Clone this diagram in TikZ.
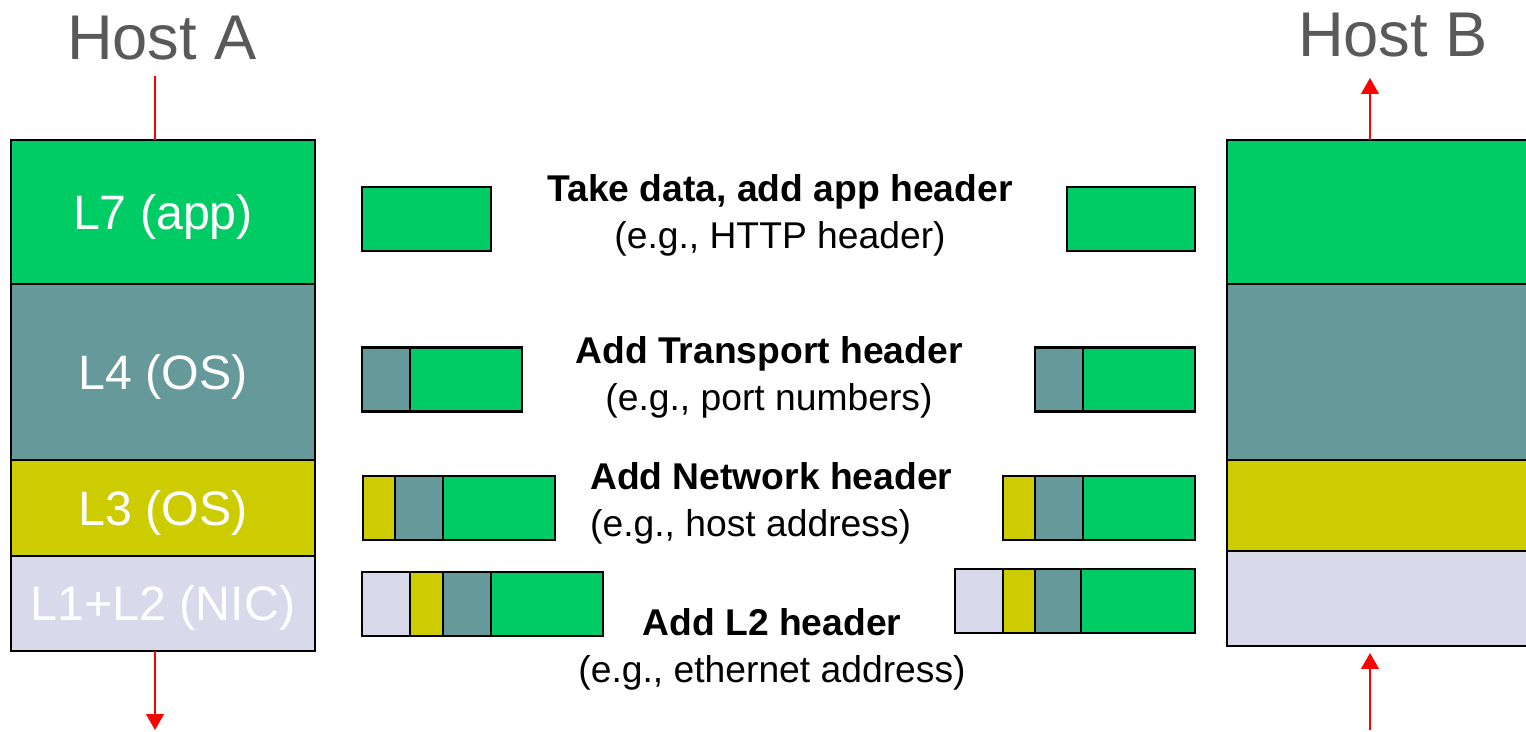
\documentclass[tikz,border=0pt]{standalone}
\usepackage{fontspec}
\setmainfont{Liberation Sans}
\usetikzlibrary{positioning,arrows.meta}
\definecolor{l7col}{HTML}{00CC66}
\definecolor{l4col}{HTML}{669999}
\definecolor{l3col}{HTML}{CCCC00}
\definecolor{l2col}{HTML}{D9D9EC}
\definecolor{hostgray}{HTML}{595959}

\begin{document}
\begin{tikzpicture}[x=0.02cm,y=-0.02cm,
  layer/.style={draw,line width=1.6pt,outer sep=0pt,minimum width=6.08cm,inner sep=0pt,text depth=0pt,text=white,font=\fontsize{27.5}{30}\selectfont},
  seg/.style={draw,line width=1.4pt,outer sep=0pt,minimum height=1.28cm,inner sep=0pt},
  note/.style={align=center,font=\fontsize{21.2}{26.6}\selectfont},
  hostlbl/.style={text=hostgray,font=\fontsize{36}{40}\selectfont,anchor=base},
  flow/.style={red,line width=1.1pt},
  tip/.style={-{Triangle[width=10pt,length=9pt]}}]
    \useasboundingbox (0,0) rectangle (1526,731);

    % sending side
    \node[hostlbl] (hostA) at (162,59) {Host A};
    \node[layer,fill=l7col,minimum height=2.88cm] (a7) at (163,212) {L7 (app)};
    \node[layer,fill=l4col,minimum height=3.52cm,below=0pt of a7] (a4) {L4 (OS)};
    \node[layer,fill=l3col,minimum height=1.92cm,below=0pt of a4] (a3) {L3 (OS)};
    \node[layer,fill=l2col,minimum height=1.9cm,below=0pt of a3] (a12) {L1+L2 (NIC)};

    % receiving side
    \node[hostlbl] (hostB) at (1393,56) {Host B};
    \node[layer,fill=l7col,minimum height=2.88cm] (b7) at (1379,212) {};
    \node[layer,fill=l4col,minimum height=3.52cm,below=0pt of b7] (b4) {};
    \node[layer,fill=l3col,minimum height=1.82cm,below=0pt of b4] (b3) {};
    \node[layer,fill=l2col,minimum height=1.9cm,below=0pt of b3] (b12) {};

    % packets, left
    \node[seg,fill=l7col,minimum width=2.58cm] (p1a) at (426.5,219) {};
    \node[seg,fill=l4col,minimum width=0.96cm] (p2a4) at (386,379.5) {};
    \node[seg,fill=l7col,minimum width=2.24cm,right=0pt of p2a4] (p2a7) {};
    \node[seg,fill=l3col,minimum width=0.64cm] (p3a3) at (379,508) {};
    \node[seg,fill=l4col,minimum width=0.96cm,right=0pt of p3a3] (p3a4) {};
    \node[seg,fill=l7col,minimum width=2.24cm,right=0pt of p3a4] (p3a7) {};
    \node[seg,fill=l2col,minimum width=0.96cm] (p4a2) at (386,604) {};
    \node[seg,fill=l3col,minimum width=0.66cm,right=0pt of p4a2] (p4a3) {};
    \node[seg,fill=l4col,minimum width=0.96cm,right=0pt of p4a3] (p4a4) {};
    \node[seg,fill=l7col,minimum width=2.24cm,right=0pt of p4a4] (p4a7) {};

    % packets, right
    \node[seg,fill=l7col,minimum width=2.56cm] (p1b) at (1131,219) {};
    \node[seg,fill=l4col,minimum width=0.96cm] (p2b4) at (1059,379.5) {};
    \node[seg,fill=l7col,minimum width=2.24cm,right=0pt of p2b4] (p2b7) {};
    \node[seg,fill=l3col,minimum width=0.64cm] (p3b3) at (1019,508) {};
    \node[seg,fill=l4col,minimum width=0.96cm,right=0pt of p3b3] (p3b4) {};
    \node[seg,fill=l7col,minimum width=2.24cm,right=0pt of p3b4] (p3b7) {};
    \node[seg,fill=l2col,minimum width=0.96cm] (p4b2) at (979,601) {};
    \node[seg,fill=l3col,minimum width=0.64cm,right=0pt of p4b2] (p4b3) {};
    \node[seg,fill=l4col,minimum width=0.92cm,right=0pt of p4b3] (p4b4) {};
    \node[seg,fill=l7col,minimum width=2.28cm,right=0pt of p4b4] (p4b7) {};

    % step notes
    \node[note] (t7) at (780,215.5) {\textbf{Take data, add app header}\\(e.g., HTTP header)};
    \node[note] (t4) at (769,377) {\textbf{Add Transport header}\\(e.g., port numbers)};
    \node[note,align=left,anchor=west] (t3) at (584,503) {\textbf{Add Network header}\\(e.g., host address)};
    \node[note] (t2) at (772,649.5) {\textbf{Add L2 header}\\(e.g., ethernet address)};

    % data in and out
    \coordinate (srcA) at (155,76);
    \coordinate (dstA) at (155,730);
    \coordinate (srcB) at (1370,730);
    \coordinate (tipB) at (1370,653);
    \coordinate (dstB) at (1370,78);
    \draw[flow] (srcA) -- (srcA |- a7.north);
    \draw[flow,tip] (a12.south -| dstA) -- (dstA);
    \draw[flow,tip] (srcB) -- (tipB);
    \draw[flow,tip] (b7.north -| dstB) -- (dstB);
\end{tikzpicture}
\end{document}
